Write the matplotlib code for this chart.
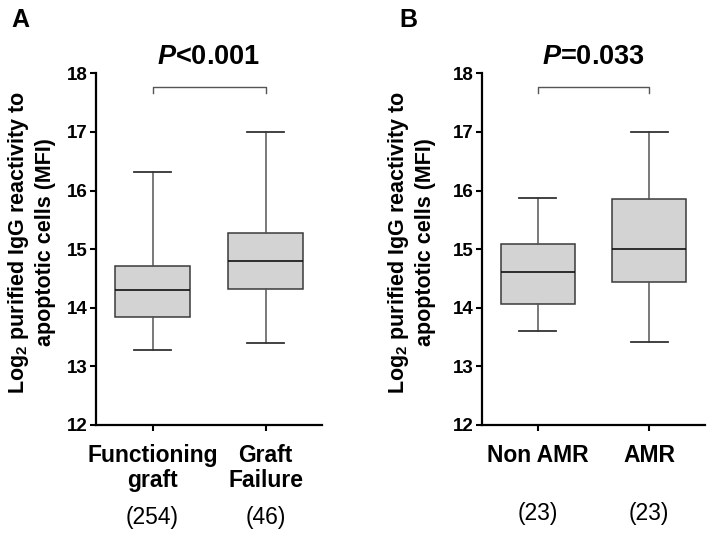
import matplotlib
matplotlib.use("Agg")
import matplotlib.pyplot as plt

plt.rcParams["font.family"] = ["Liberation Sans", "DejaVu Sans"]
plt.rcParams["mathtext.fontset"] = "custom"
plt.rcParams["mathtext.rm"] = "Liberation Sans:bold"
plt.rcParams["mathtext.it"] = "Liberation Sans:italic:bold"
plt.rcParams["mathtext.bf"] = "Liberation Sans:bold"

# Panel A: graft outcome
groups_a = ["Functioning\ngraft", "Graft\nFailure"]
counts_a = ["(254)", "(46)"]
whislo_a = [13.28, 13.40]
q1_a = [13.84, 14.32]
med_a = [14.30, 14.80]
q3_a = [14.72, 15.27]
whishi_a = [16.32, 17.00]
p_a = "<0.001"

# Panel B: AMR
groups_b = ["Non AMR", "AMR"]
counts_b = ["(23)", "(23)"]
whislo_b = [13.61, 13.42]
q1_b = [14.06, 14.44]
med_b = [14.61, 15.00]
q3_b = [15.08, 15.86]
whishi_b = [15.88, 17.00]
p_b = "=0.033"

bracket_top = 17.76
bracket_end = 17.67
ylabel = "Log$_2$ purified IgG reactivity to\napoptotic cells (MFI)"


def draw_panel(ax, groups, counts, whislo, q1, med, q3, whishi, p_text, count_y):
    stats = []
    for i in range(len(groups)):
        stats.append({"whislo": whislo[i], "q1": q1[i], "med": med[i],
                      "q3": q3[i], "whishi": whishi[i], "fliers": []})
    pos = [1, 2]
    ax.bxp(stats, positions=pos, widths=0.667, patch_artist=True,
           showfliers=False,
           boxprops=dict(facecolor="#d3d3d3", edgecolor="#3a3a3a", linewidth=1.1),
           medianprops=dict(color="#111111", linewidth=1.2),
           whiskerprops=dict(color="#555555", linewidth=1.1),
           capprops=dict(color="#333333", linewidth=1.3))
    ax.set_xlim(0.5, 2.5)
    ax.set_ylim(12, 18)
    ax.set_yticks(range(12, 19))
    ax.set_xticks(pos)
    ax.set_xticklabels(groups, fontsize=16.5, fontweight="bold", linespacing=1.1)
    for lab in ax.get_yticklabels():
        lab.set_fontweight("bold")
    ax.tick_params(axis="y", labelsize=13.5, length=4.5, width=1.5, pad=1.5)
    ax.tick_params(axis="x", length=4.5, width=1.5, pad=9)
    for s in ["top", "right"]:
        ax.spines[s].set_visible(False)
    for s in ["left", "bottom"]:
        ax.spines[s].set_linewidth(1.6)

    # significance bracket
    ax.plot([pos[0], pos[0], pos[1], pos[1]],
            [bracket_end, bracket_top, bracket_top, bracket_end],
            color="#555555", linewidth=1.0, clip_on=False)
    ax.text(0.5, 1.046, "$P$" + p_text, transform=ax.transAxes,
            ha="center", va="center", fontsize=19.5, fontweight="bold")

    # group sizes
    for x, c in zip(pos, counts):
        ax.text(x, count_y, c, transform=ax.get_xaxis_transform(),
                ha="center", va="center", fontsize=16.5)


fig = plt.figure(figsize=(7.14, 5.36), dpi=100)
ax_a = fig.add_axes([0.1345, 0.2071, 0.3165, 0.656])
ax_b = fig.add_axes([0.675, 0.2071, 0.3123, 0.656])

draw_panel(ax_a, groups_a, counts_a, whislo_a, q1_a, med_a, q3_a, whishi_a, p_a, -0.262)
draw_panel(ax_b, groups_b, counts_b, whislo_b, q1_b, med_b, q3_b, whishi_b, p_b, -0.252)

fig.text(31 / 714, 1 - 242 / 536, ylabel, rotation=90, ha="center", va="center",
         fontsize=15.5, fontweight="bold", linespacing=1.2, multialignment="center")
fig.text(411 / 714, 1 - 242 / 536, ylabel, rotation=90, ha="center", va="center",
         fontsize=15.5, fontweight="bold", linespacing=1.2, multialignment="center")

fig.text(20 / 714, 1 - 20 / 536, "A", ha="center", va="center",
         fontsize=18, fontweight="bold")
fig.text(408 / 714, 1 - 20 / 536, "B", ha="center", va="center",
         fontsize=18, fontweight="bold")

fig.savefig("out.png", dpi=100)
